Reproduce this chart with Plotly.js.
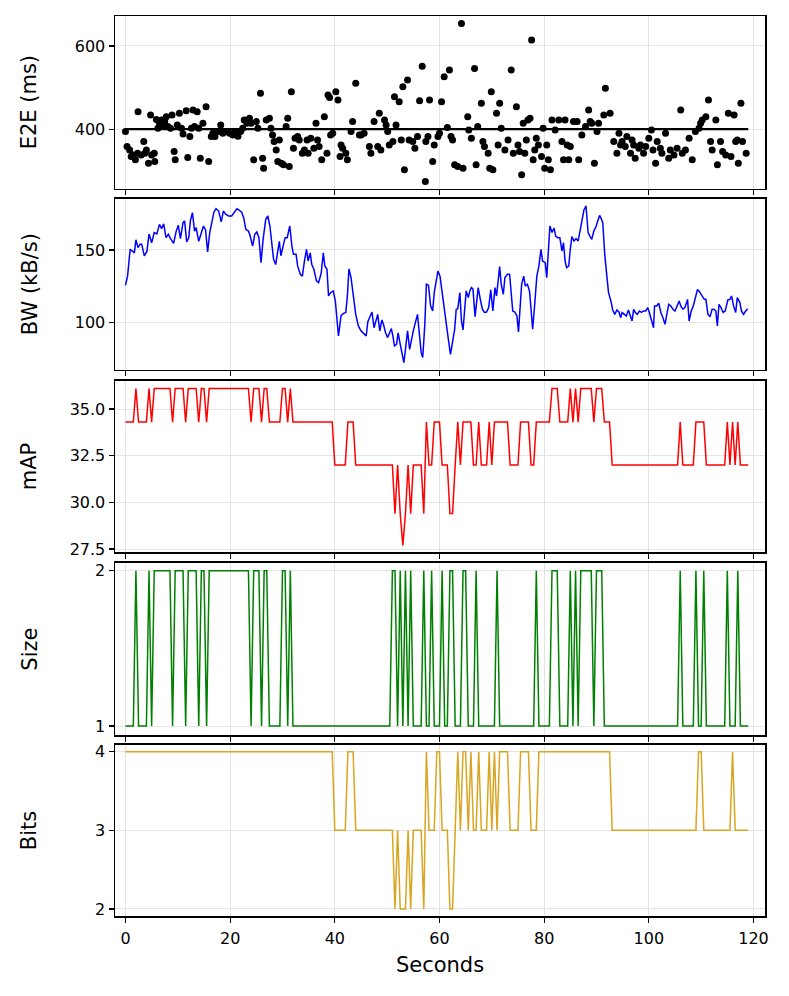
<!DOCTYPE html>
<html>
<head>
<meta charset="utf-8">
<script src="https://cdn.plot.ly/plotly-3.0.1.min.js"></script>
<style>html,body{margin:0;padding:0;background:#fff;}#chart{width:789px;height:996px;}</style>
</head>
<body>
<div id="chart"></div>
<script>
// ---- sampling of the discrete series (seconds) ----
const sampleStart = 0;
const sampleStep = 0.5;

// ---- E2E latency (ms): sample times and values ----
const e2eT = [0,0.3,0.8,1.1,1.5,1.9,2.3,2.4,3,3.5,3.7,4,4.4,4.8,5,5.5,5.6,5.9,6.2,6.5,6.9,7.2,7.5,7.8,8.1,8.6,8.9,9.3,9.5,9.9,10.3,10.7,11,11.6,11.9,12.3,12.6,12.9,13.2,13.7,14,14.3,14.8,15.4,15.9,16.4,16.7,17.1,17.7,18.2,18.6,19.2,19.9,20.5,21,21.5,22,22.4,22.7,23.2,23.7,24,24.5,25,25.3,25.8,26.2,26.4,26.9,27.5,27.8,28.1,28.4,28.8,29.1,29.4,29.8,30.2,30.7,31,31.3,31.7,32.1,32.4,32.9,33.2,33.8,34.2,34.7,34.9,35.4,36,36.4,36.7,37,37.5,38,38.5,38.7,39,39.2,39.6,
40.2,40.6,41,41.2,41.5,42.1,42.4,43.1,43.4,44,44.7,45,45.6,46.6,46.9,47.5,48.2,48.5,48.8,49.5,49.8,50.1,50.4,51.1,51.4,51.7,52.3,52.7,53,53.3,53.9,54.2,54.9,55.3,55.8,56.2,56.7,57.3,57.4,57.8,58.1,58.7,59,59.7,60,60.4,60.9,61.5,61.9,62.2,62.5,62.9,63.5,64.2,64.5,65.4,65.6,66.1,66.7,67,67.3,68,68.3,68.6,69.3,69.6,69.9,70.2,70.9,71.2,71.5,71.8,72.5,73.1,73.7,74.1,74.7,75,75.3,75.7,76,76.3,76.6,76.9,77.3,77.6,77.9,78.2,78.5,78.9,79.5,79.8,80.1,
80.5,80.8,81.2,81.5,82.1,82.8,83.4,83.7,84,84.4,84.7,85,85.6,86.3,86.6,87.2,87.9,88.5,88.8,89.1,89.6,90.1,90.4,91.4,91.7,92.6,93.3,93.9,94.3,94.6,94.9,95.5,95.8,96.5,96.8,97.1,97.4,98.1,98.4,99,99.4,100,100.5,100.8,101.3,101.6,102.2,102.5,103.2,103.8,104.1,104.8,105.4,106.1,106.4,107,107.7,108.3,108.9,109.6,109.9,110.2,110.9,111.4,111.8,112.1,112.8,113.1,113.7,114.1,114.7,115.2,115.7,116.3,116.6,116.9,117.1,117.6,117.9,118.6];
const e2eMs = [394,358,350,334,338,326,342,442,338,370,342,350,318,434,338,342,322,423,402,414,422,406,418,430,406,402,434,346,326,410,438,402,388,444,332,382,402,446,406,442,402,330,414,454,322,382,390,382,394,410,390,394,390,386,394,383,394,402,422,414,426,414,326,418,402,486,330,306,422,426,402,386,370,350,322,374,318,314,406,426,310,490,354,378,382,374,342,350,374,342,378,354,414,374,358,326,430,342,482,476,386,390,
490,470,334,362,354,342,326,394,418,510,386,386,390,358,342,418,358,438,350,422,410,394,362,370,478,410,466,374,502,302,518,374,370,354,382,468,551,274,370,382,470,322,362,382,390,466,526,404,542,382,374,314,310,654,306,430,398,378,546,314,406,462,370,358,342,306,490,302,438,362,462,402,350,374,542,342,454,362,346,290,414,342,374,422,426,614,326,350,378,362,334,402,306,
362,326,302,422,398,422,370,326,422,362,326,358,418,418,326,386,406,446,418,414,318,394,414,434,498,438,370,342,390,362,370,358,382,342,374,362,330,354,362,342,358,378,398,350,318,370,354,342,390,330,350,338,354,446,342,350,378,326,394,402,414,422,430,470,370,350,422,314,370,346,338,438,334,434,370,374,318,462,370,342];
const e2eTarget = 400;
const e2eTargetSpan = [0, 119];

// ---- Bandwidth (kB/s) ----
const bwT = [0,0.4,0.9,1.3,1.7,2,2.4,2.8,3.1,3.6,4.1,4.5,5,5.5,6,6.5,6.9,7.3,7.75,8.2,8.6,9.2,9.7,10.1,10.5,11,11.3,11.7,12.1,12.4,12.8,13.2,13.5,14,14.5,14.9,15.3,15.7,16.1,16.5,16.9,17.3,17.8,18.3,18.7,19.2,19.7,20.3,20.8,21.3,21.7,22.2,22.6,23,23.5,23.8,24.3,24.7,25.1,25.5,25.9,26.3,26.8,27.2,27.6,28,28.3,28.7,29.1,29.4,29.7,30.2,30.5,30.9,31.4,31.8,32.1,32.6,32.9,33.4,33.8,34.2,34.6,34.9,35.3,35.6,36,36.5,36.9,37.4,37.8,38.1,38.5,38.8,39.2,39.7,
40.1,40.7,41.2,41.7,42.1,42.4,42.7,43.1,43.6,44,44.5,45,45.5,46,46.3,46.7,47.1,47.5,47.9,48.2,48.6,49,49.3,49.7,50.1,50.5,50.8,51.1,51.4,51.8,52.1,52.5,52.8,53.2,53.5,53.9,54.3,54.6,55,55.4,55.8,56.2,56.5,56.8,57.2,57.5,57.9,58.3,58.7,59,59.4,59.7,60.1,60.5,60.9,61.3,61.7,62.1,62.5,62.9,63.2,63.5,63.9,64.2,64.5,64.8,65.1,65.5,65.8,66.1,66.4,66.8,67.2,67.4,67.8,68.2,68.6,69,69.4,69.8,70.2,70.6,70.9,71.2,71.5,71.8,72.2,72.5,73,73.4,73.7,74,74.4,74.8,75.1,75.4,75.7,76.1,76.4,76.8,77.2,77.5,77.8,78.2,78.6,79,79.4,79.7,
80.2,80.5,81.1,81.5,81.9,82.2,82.6,83,83.4,83.7,84,84.3,84.7,85,85.3,85.7,86.1,86.5,86.8,87.2,87.6,88,88.4,88.8,89.1,89.5,89.9,90.3,90.6,90.9,91.2,91.6,92,92.3,92.8,93.1,93.5,93.9,94.3,94.6,94.9,95.3,95.7,96.1,96.4,96.8,97.1,97.4,97.8,98.2,98.6,99,99.4,99.8,100.1,100.6,100.9,101.1,101.5,101.9,102.3,102.7,103.1,103.5,103.8,104.2,104.6,105,105.4,105.8,106.1,106.5,106.9,107.4,107.7,108.1,108.5,108.9,109.3,109.7,110.1,110.6,110.9,111.3,111.7,112.1,112.4,112.8,113.1,113.4,113.8,114.2,114.6,114.9,115.1,115.5,115.8,116.2,116.6,116.9,117.4,117.7,118.1,118.5,118.9];
const bwKBs = [125.7,132,150.5,149,148,157,151.6,154,154,146,149,161,155,162,161,167.6,164.7,168,158.5,160.8,157.8,154.6,163,167,157.8,168.8,170,155.5,158.5,170,175.7,163,165.4,156,162,166.5,164,148.6,162,170,176,178.4,176.8,169.3,176.8,174.5,173.4,173.4,176,178.4,177.5,176,172,164.2,163,160,152.7,160.8,162.4,158.5,141.3,157.3,171,173.4,166.5,155,143.6,140,150.5,156,146,152.7,158.5,158.5,166.5,152.7,147,147,139,133.3,132,142.4,150.5,142.4,148,140,136.7,128.7,127.5,134,148,139,136.7,118.4,120.6,121.8,
115,90.8,105,106.4,107,118.3,137,131,118.3,105.7,97.7,94.3,92.6,90.8,100.4,103.4,107.3,96.5,101,105.7,94.3,101.8,98.8,93,89.7,93,95.9,90.8,84,85,93,85,79.3,72.5,81.6,94.3,81.6,87.4,94.3,100,105.7,90.8,79.3,76,98.8,126.4,125.7,111.5,108,120.6,129.8,135.5,132,120.6,109.2,96.5,88.5,78.2,86.3,95.4,109.2,109.6,120.6,101.1,95,112.6,121.8,117.2,121.8,124.1,123,104.1,116,124.1,116,109.2,107,107.3,110.3,122.5,108,124.1,118.3,127.5,138.5,126.4,119.5,131,133.3,133.3,121.8,108,107.3,104.6,93.6,109.2,126.4,132,125.2,126.4,121.8,109.2,95.4,112.6,132,139,150.5,142.4,
141.3,131,166.5,162,165,159.6,158.5,158.5,149.3,155,142.4,137.8,139,150.5,159.2,156.2,157.8,156.2,162,172.3,177.5,180.3,162,159.2,157.3,163,166,170.6,173.8,171.6,168.8,145.9,132,120.6,114.2,108.7,105.7,108.7,107.3,103.4,106.9,105.7,104.6,108.7,105.7,101.1,109.2,107,105.7,108,107,108,108,110.3,107,101.1,96.5,111.5,111.5,113.3,107,103.4,98.8,106.9,112.6,111.5,109.2,108,111.5,114.9,111.5,109.2,110.3,116,101.1,108,111.5,118.3,122.9,121.1,118.8,116,116,105.7,104.1,109.2,109.2,108,97.7,112.6,110.3,107,108,113.8,115.6,116,118.3,111.5,107,117.2,113.8,108,105.7,108,109.6];

// ---- mAP (sampled every sampleStep s) ----
const mAP = [
34.3,34.3,34.3,34.3,36.1,34.3,34.3,34.3,34.3,36.1,34.3,36.1,36.1,36.1,36.1,36.1,36.1,36.1,34.3,36.1,
36.1,36.1,36.1,34.3,36.1,36.1,36.1,36.1,34.3,36.1,36.1,34.3,36.1,36.1,36.1,36.1,36.1,36.1,36.1,36.1,
36.1,36.1,36.1,36.1,36.1,36.1,36.1,36.1,34.3,36.1,36.1,36.1,34.3,36.1,36.1,34.3,34.3,34.3,34.3,34.3,
36.1,36.1,34.3,36.1,34.3,34.3,34.3,34.3,34.3,34.3,34.3,34.3,34.3,34.3,34.3,34.3,34.3,34.3,34.3,34.3,
32,32,32,32,32,34.3,34.3,34.3,32,32,32,32,32,32,32,32,32,32,32,32,
32,32,32,29.4,32,29.4,27.7,29.4,32,29.4,32,32,32,32,29.4,34.3,32,32,34.3,34.3,
34.3,32,32,32,29.4,29.4,32,34.3,32,34.3,34.3,34.3,34.3,32,32,34.3,32,32,32,34.3,
32,34.3,34.3,34.3,34.3,34.3,34.3,32,32,32,32,34.3,34.3,34.3,34.3,32,32,34.3,34.3,34.3,
34.3,34.3,34.3,36.1,36.1,36.1,34.3,34.3,34.3,34.3,36.1,34.3,36.1,34.3,36.1,36.1,36.1,36.1,36.1,34.3,
36.1,36.1,36.1,34.3,34.3,34.3,32,32,32,32,32,32,32,32,32,32,32,32,32,32,
32,32,32,32,32,32,32,32,32,32,32,32,34.3,32,32,32,32,32,34.3,34.3,
34.3,34.3,32,32,32,32,32,32,32,32,34.3,32,34.3,32,34.3,32,32,32,32];

// ---- Model size ----
const modelSize = [
1,1,1,1,2,1,1,1,1,2,1,2,2,2,2,2,2,2,1,2,
2,2,2,1,2,2,2,2,1,2,2,1,2,2,2,2,2,2,2,2,
2,2,2,2,2,2,2,2,1,2,2,2,1,2,2,1,1,1,1,1,
2,2,1,2,1,1,1,1,1,1,1,1,1,1,1,1,1,1,1,1,
1,1,1,1,1,1,1,1,1,1,1,1,1,1,1,1,1,1,1,1,
1,1,2,2,1,2,1,2,1,2,1,1,1,1,2,1,1,2,1,1,
1,2,1,1,2,2,1,1,1,2,2,1,1,1,2,1,1,1,1,1,
1,1,2,1,1,1,1,1,1,1,1,1,1,1,1,1,1,2,1,1,
1,1,1,2,2,2,1,1,1,1,2,1,2,1,2,2,2,2,2,1,
2,2,2,1,1,1,1,1,1,1,1,1,1,1,1,1,1,1,1,1,
1,1,1,1,1,1,1,1,1,1,1,1,2,1,1,1,1,1,2,1,
1,2,1,1,1,1,1,1,1,1,2,1,1,1,2,1,1,1,1];

// ---- Quantisation bits ----
const bits = [
4,4,4,4,4,4,4,4,4,4,4,4,4,4,4,4,4,4,4,4,
4,4,4,4,4,4,4,4,4,4,4,4,4,4,4,4,4,4,4,4,
4,4,4,4,4,4,4,4,4,4,4,4,4,4,4,4,4,4,4,4,
4,4,4,4,4,4,4,4,4,4,4,4,4,4,4,4,4,4,4,4,
3,3,3,3,3,4,4,4,3,3,3,3,3,3,3,3,3,3,3,3,
3,3,3,2,3,2,2,2,3,2,3,3,3,3,2,4,3,3,3,4,
4,3,3,3,2,2,3,4,3,4,4,3,4,3,3,4,3,3,3,4,
3,4,3,4,4,4,4,3,3,3,3,4,4,4,4,3,3,3,4,4,
4,4,4,4,4,4,4,4,4,4,4,4,4,4,4,4,4,4,4,4,
4,4,4,4,4,4,3,3,3,3,3,3,3,3,3,3,3,3,3,3,
3,3,3,3,3,3,3,3,3,3,3,3,3,3,3,3,3,3,3,4,
4,3,3,3,3,3,3,3,3,3,3,3,4,3,3,3,3,3,3];

// ---- tick labels ----
const xTicks = [0,20,40,60,80,100,120];
const e2eTicks = [400,600];
const bwTicks = [100,150];
const mapTicks = [27.5,30.0,32.5,35.0];
const sizeTicks = [1,2];
const bitsTicks = [2,3,4];
const panelTitles = ['E2E (ms)','BW (kB/s)','mAP','Size','Bits'];

const FONT = 'DejaVu Sans, Liberation Sans, sans-serif';
const traces = [
  {type:'scatter', mode:'markers', x:e2eT, y:e2eMs, xaxis:'x', yaxis:'y',
   marker:{color:'#000', size:7}, hoverinfo:'skip'},
  {type:'scatter', mode:'lines', x:e2eTargetSpan, y:[e2eTarget,e2eTarget], xaxis:'x', yaxis:'y',
   line:{color:'#000', width:2.2}},
  {type:'scatter', mode:'lines', x:bwT, y:bwKBs, xaxis:'x2', yaxis:'y2',
   line:{color:'#0000ff', width:1.5}},
  {type:'scatter', mode:'lines', x0:sampleStart, dx:sampleStep, y:mAP, xaxis:'x3', yaxis:'y3',
   line:{color:'#ff0000', width:1.5}},
  {type:'scatter', mode:'lines', x0:sampleStart, dx:sampleStep, y:modelSize, xaxis:'x4', yaxis:'y4',
   line:{color:'#008000', width:1.5}},
  {type:'scatter', mode:'lines', x0:sampleStart, dx:sampleStep, y:bits, xaxis:'x5', yaxis:'y5',
   line:{color:'#daa520', width:1.5}}
];

const domains = [[0.8078,1.0],[0.6067,0.797],[0.4044,0.5948],[0.2011,0.3926],[0.0,0.1903]];
const yRanges = [[256,672],[67.4,185.3],[27.34,36.52],[0.942,2.052],[1.91,4.09]];
const yTickSets = [e2eTicks,bwTicks,mapTicks,sizeTicks,bitsTicks];
const yFormats = ['','','.1f','',''];

const common = {
  showline:true, mirror:true, linecolor:'#000', linewidth:1.5,
  ticks:'outside', ticklen:5, tickwidth:1.2, tickcolor:'#000',
  showgrid:true, gridcolor:'#e4e4e4', gridwidth:1, zeroline:false,
  tickfont:{family:FONT, size:16, color:'#000'}
};

const layout = {
  width:789, height:996,
  margin:{l:115, r:24, t:16, b:80},
  paper_bgcolor:'#fff', plot_bgcolor:'#fff',
  showlegend:false,
  font:{family:FONT, color:'#000'},
  annotations:[]
};

for (let k=0;k<5;k++){
  const xs = k===0 ? 'xaxis' : 'xaxis'+(k+1);
  const ys = k===0 ? 'yaxis' : 'yaxis'+(k+1);
  layout[xs] = Object.assign({}, common, {
    domain:[0,1], anchor: k===0?'y':'y'+(k+1),
    range:[-2,122.2], tickvals:xTicks, showticklabels: k===4,
    matches: k===0 ? undefined : 'x'
  });
  if (k===4) {
    layout[xs].title = {text:'Seconds', font:{family:FONT, size:21}, standoff:10};
    layout[xs].ticklabelstandoff = 2;
  }
  layout[ys] = Object.assign({}, common, {
    domain:domains[k], anchor: k===0?'x':'x'+(k+1),
    range:yRanges[k], tickvals:yTickSets[k], tickformat:yFormats[k]
  });
  layout.annotations.push({
    text:panelTitles[k], xref:'paper', yref:'paper',
    x:-0.131, y:(domains[k][0]+domains[k][1])/2,
    textangle:-90, showarrow:false, xanchor:'center', yanchor:'middle',
    font:{family:FONT, size:21, color:'#000'}
  });
}

Plotly.newPlot('chart', traces, layout, {staticPlot:true, displayModeBar:false});
</script>
</body>
</html>
